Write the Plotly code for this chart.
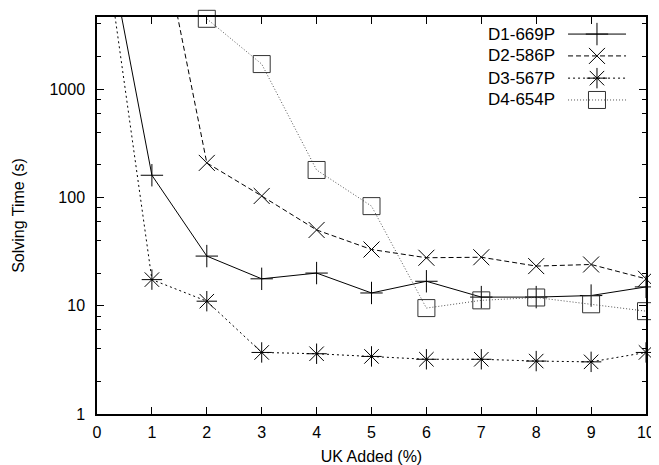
import plotly.graph_objects as go

# ---- data ----
x_uk = [0, 1, 2, 3, 4, 5, 6, 7, 8, 9, 10]
x_d4 = [2, 3, 4, 5, 6, 7, 8, 9, 10]
d1_669p = [72000, 160, 28.7, 17.7, 20.0, 13.1, 16.8, 12.0, 12.0, 12.4, 14.9]
d2_586p = [72000, 72000, 208, 103, 50, 33, 27.7, 28.0, 23.2, 24.0, 17.7]
d3_567p = [72000, 17.4, 11.0, 3.7, 3.6, 3.4, 3.2, 3.2, 3.08, 3.03, 3.7]
d4_654p = [4450, 1700, 179, 83, 9.5, 11.2, 11.9, 10.3, 8.9]
series_names = ["D1-669P", "D2-586P", "D3-567P", "D4-654P"]
y_ticks = [1, 10, 100, 1000]
y_tick_text = ["1", "10", "100", "1000"]
x_ticks = list(range(0, 11))

FONT = "Liberation Sans, Arial, Helvetica, sans-serif"

styles = [
    dict(dash="solid", symbol="cross-thin", size=16, color="black", lcolor="black"),
    dict(dash="5px,3px", symbol="x-thin", size=16, color="black", lcolor="black"),
    dict(dash="2px,3px", symbol="asterisk", size=17, color="black", lcolor="black"),
    dict(dash="1px,2px", symbol="square", size=17, color="#333333", lcolor="#555555"),
]
xs = [x_uk, x_uk, x_uk, x_d4]
ys = [d1_669p, d2_586p, d3_567p, d4_654p]

fig = go.Figure()
for xv, yv, st, nm in zip(xs, ys, styles, series_names):
    fig.add_trace(go.Scatter(
        x=xv, y=yv, name=nm, mode="lines+markers", cliponaxis=False,
        line=dict(color=st["lcolor"], width=1, dash=st["dash"]),
        marker=dict(symbol=st["symbol"], size=st["size"], color="rgba(0,0,0,0)",
                    line=dict(color=st["color"], width=1)),
        showlegend=False,
    ))

# ---- custom gnuplot-style key (text left of sample) ----
key_rows = [0.957, 0.902, 0.846, 0.791]
key_x0, key_x1, key_xm, key_text_x = 0.858, 0.9636, 0.9107, 0.838
for row, st, nm in zip(key_rows, styles, series_names):
    fig.add_trace(go.Scatter(
        x=[key_x0, key_x1], y=[row, row], xaxis="x2", yaxis="y2", mode="lines",
        line=dict(color=st["lcolor"], width=1, dash=st["dash"]),
        showlegend=False, hoverinfo="skip"))
    fig.add_trace(go.Scatter(
        x=[key_xm], y=[row], xaxis="x2", yaxis="y2", mode="markers",
        marker=dict(symbol=st["symbol"], size=st["size"], color="rgba(0,0,0,0)",
                    line=dict(color=st["color"], width=1)),
        showlegend=False, hoverinfo="skip"))
    fig.add_annotation(x=key_text_x, y=row, xref="paper", yref="paper",
                       text=nm, showarrow=False, xanchor="right", yanchor="middle",
                       font=dict(family=FONT, size=17, color="black"))

minor_vals = []
for dec in [1, 10, 100, 1000]:
    for m in [2, 4, 6, 8]:
        minor_vals.append(dec * m)

# the page body has an 8px default margin, so the figure is sized to fit
fig.update_layout(
    width=651, height=457,
    margin=dict(l=89, r=13, t=9, b=51),
    paper_bgcolor="white", plot_bgcolor="white",
    font=dict(family=FONT, size=16, color="black"),
    xaxis=dict(
        range=[0, 10], tickmode="array", tickvals=x_ticks,
        ticks="inside", ticklen=7, tickwidth=1, tickcolor="black",
        showline=True, linecolor="black", linewidth=1.5, mirror="ticks",
        showgrid=False, zeroline=False, ticklabelstandoff=3, automargin=False,
        title=dict(text="UK Added (%)", standoff=12, font=dict(size=16)),
        tickfont=dict(size=16),
    ),
    yaxis=dict(
        type="log", range=[0, 3.665], tickmode="array", tickvals=y_ticks,
        ticktext=y_tick_text,
        ticks="inside", ticklen=7, tickwidth=1, tickcolor="black",
        minor=dict(tickmode="array", tickvals=minor_vals, ticks="inside",
                   ticklen=4, tickwidth=1, tickcolor="black", showgrid=False),
        showline=True, linecolor="black", linewidth=1.5, mirror="ticks",
        showgrid=False, zeroline=False, ticklabelstandoff=7, automargin=False,
        title=dict(text="Solving Time (s)", standoff=21, font=dict(size=16)),
        tickfont=dict(size=16),
    ),
    xaxis2=dict(range=[0, 1], overlaying="x", visible=False, fixedrange=True),
    yaxis2=dict(range=[0, 1], overlaying="y", visible=False, fixedrange=True),
)

fig.write_html("out.html")
